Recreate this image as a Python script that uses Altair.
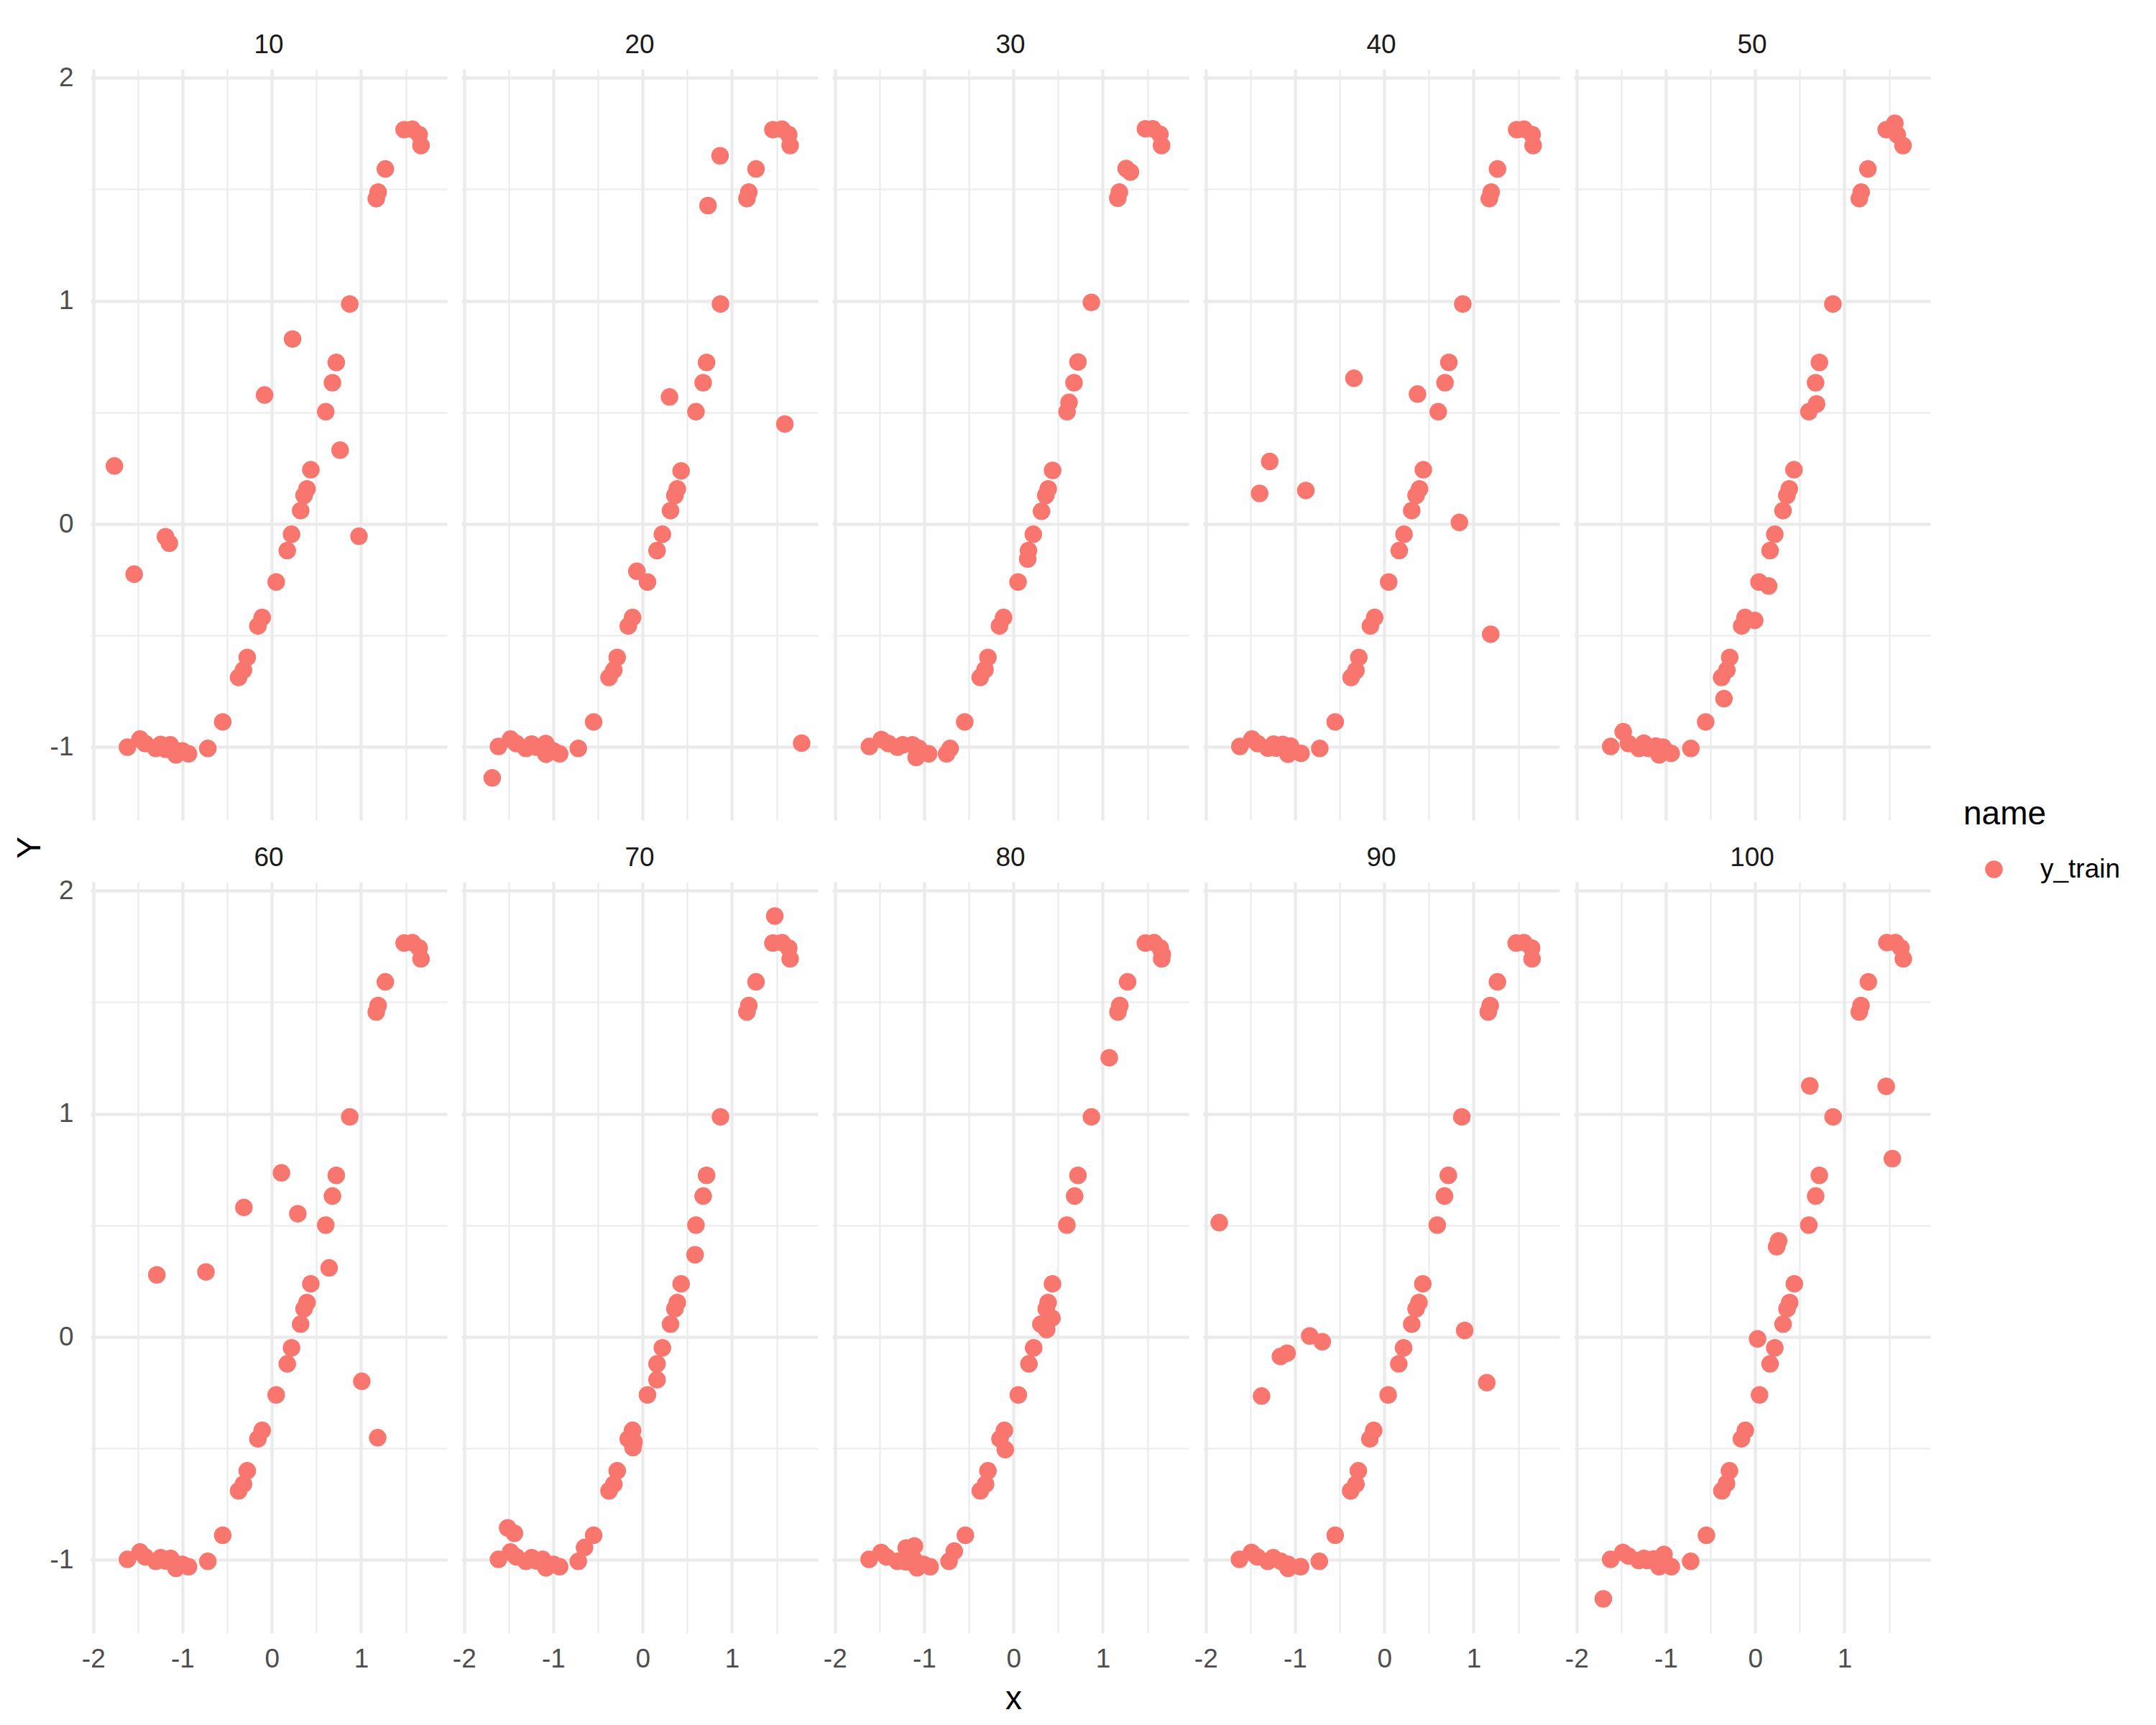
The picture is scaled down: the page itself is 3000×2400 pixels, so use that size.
import pandas as pd
import altair as alt

# points per facet panel: (x, Y)
P10 = [(-1.763, 0.260), (-1.542, -0.225), (-1.191, -0.057), (-1.148, -0.086), (-1.617, -1.0),
       (-1.477, -0.964), (-1.418, -0.984), (-1.30, -1.006), (-1.245, -0.988), (-1.19, -1.01),
       (-1.137, -0.99), (-1.073, -1.035), (-1.003, -1.017), (-0.933, -1.03), (-0.717, -1.006),
       (-0.550, -0.887), (-0.372, -0.688), (-0.318, -0.655), (-0.275, -0.598), (-0.156, -0.457),
       (-0.108, -0.419), (-0.081, 0.578), (0.049, -0.260), (0.173, -0.119), (0.221, -0.046),
       (0.232, 0.829), (0.323, 0.060), (0.361, 0.128), (0.394, 0.157), (0.437, 0.243),
       (0.604, 0.503), (0.679, 0.633), (0.722, 0.724), (0.765, 0.331), (0.873, 0.986),
       (0.976, -0.055), (1.170, 1.458), (1.191, 1.487), (1.272, 1.591), (1.482, 1.767),
       (1.574, 1.769), (1.65, 1.745), (1.671, 1.696)]
P20 = [(-1.685, -1.138), (-1.615, -0.997), (-1.48, -0.964), (-1.415, -0.984), (-1.308, -1.006),
       (-1.243, -0.986), (-1.19, -1.0), (-1.086, -0.984), (-1.082, -1.032), (-1.0, -1.017),
       (-0.93, -1.03), (-0.721, -1.006), (-0.549, -0.887), (-0.377, -0.688), (-0.323, -0.655),
       (-0.285, -0.598), (-0.161, -0.457), (-0.113, -0.419), (-0.065, -0.212), (0.054, -0.260),
       (0.161, -0.119), (0.221, -0.046), (0.301, 0.569), (0.312, 0.060), (0.361, 0.128),
       (0.388, 0.157), (0.431, 0.238), (0.597, 0.503), (0.678, 0.633), (0.716, 0.724),
       (0.732, 1.427), (0.867, 1.650), (0.872, 0.986), (1.168, 1.458), (1.189, 1.487),
       (1.270, 1.591), (1.459, 1.767), (1.561, 1.769), (1.636, 1.745), (1.652, 1.696),
       (1.593, 0.448), (1.781, -0.982)]
P30 = [(-1.614, -0.997), (-1.48, -0.966), (-1.40, -0.984), (-1.30, -1.0), (-1.24, -0.99),
       (-1.13, -0.99), (-1.09, -1.046), (-1.06, -1.006), (-0.95, -1.03), (-0.75, -1.03),
       (-0.71, -1.006), (-0.546, -0.887), (-0.373, -0.688), (-0.319, -0.653), (-0.286, -0.598),
       (-0.157, -0.457), (-0.111, -0.419), (0.051, -0.260), (0.159, -0.157), (0.168, -0.119),
       (0.222, -0.046), (0.314, 0.057), (0.362, 0.128), (0.389, 0.157), (0.438, 0.240),
       (0.600, 0.503), (0.622, 0.545), (0.678, 0.633), (0.722, 0.726), (0.873, 0.993),
       (1.168, 1.460), (1.186, 1.487), (1.262, 1.593), (1.31, 1.577), (1.478, 1.771),
       (1.559, 1.771), (1.64, 1.747), (1.659, 1.696)]
P40 = [(-1.618, -0.997), (-1.483, -0.964), (-1.419, -0.984), (-1.305, -1.004), (-1.24, -0.986),
       (-1.214, -1.004), (-1.138, -0.988), (-1.079, -1.032), (-1.05, -0.995), (-0.933, -1.028),
       (-0.723, -1.006), (-0.55, -0.887), (-0.372, -0.688), (-0.318, -0.657), (-0.286, -0.598),
       (-0.156, -0.457), (-0.108, -0.419), (0.049, -0.260), (0.167, -0.119), (0.221, -0.046),
       (0.307, 0.060), (0.356, 0.128), (0.394, 0.157), (0.437, 0.243), (0.604, 0.503),
       (0.680, 0.633), (0.723, 0.724), (0.879, 0.986), (0.841, 0.007), (0.372, 0.582),
       (-0.340, 0.653), (-1.284, 0.280), (-1.397, 0.137), (-0.879, 0.150), (1.192, -0.494),
       (1.176, 1.458), (1.197, 1.487), (1.268, 1.591), (1.483, 1.767), (1.564, 1.769),
       (1.656, 1.745), (1.667, 1.696)]
P50 = [(-1.618, -0.997), (-1.478, -0.931), (-1.419, -0.984), (-1.301, -1.006), (-1.247, -0.982),
       (-1.194, -1.006), (-1.113, -0.995), (-1.075, -1.035), (-1.032, -1.0), (-0.941, -1.028),
       (-0.72, -1.006), (-0.554, -0.887), (-0.376, -0.688), (-0.349, -0.783), (-0.317, -0.655),
       (-0.285, -0.598), (-0.151, -0.457), (-0.113, -0.419), (-0.005, -0.432), (0.043, -0.260),
       (0.151, -0.278), (0.167, -0.119), (0.22, -0.046), (0.312, 0.060), (0.355, 0.128),
       (0.382, 0.157), (0.435, 0.243), (0.602, 0.503), (0.688, 0.538), (0.677, 0.633),
       (0.72, 0.724), (0.871, 0.986), (1.167, 1.458), (1.188, 1.487), (1.263, 1.591),
       (1.468, 1.767), (1.565, 1.796), (1.591, 1.745), (1.656, 1.696)]
P60 = [(-1.617, -0.997), (-1.477, -0.964), (-1.418, -0.986), (-1.30, -1.006), (-1.245, -0.990),
       (-1.19, -1.004), (-1.132, -0.993), (-1.073, -1.037), (-1.003, -1.019), (-0.933, -1.03),
       (-0.717, -1.006), (-0.550, -0.889), (-0.372, -0.690), (-0.318, -0.660), (-0.275, -0.600),
       (-0.156, -0.457), (-0.108, -0.419), (0.049, -0.260), (0.173, -0.121), (0.221, -0.049),
       (0.323, 0.057), (0.361, 0.126), (0.394, 0.154), (0.437, 0.238), (0.604, 0.501),
       (0.642, 0.309), (0.679, 0.631), (0.722, 0.724), (0.873, 0.986), (1.008, -0.199),
       (1.186, -0.452), (1.170, 1.456), (1.191, 1.485), (1.272, 1.591), (1.482, 1.765),
       (1.574, 1.767), (1.65, 1.743), (1.671, 1.694), (-1.288, 0.278), (-0.738, 0.291),
       (-0.313, 0.580), (0.108, 0.735), (0.291, 0.552)]
P70 = [(-1.615, -0.997), (-1.512, -0.856), (-1.437, -0.880), (-1.48, -0.964), (-1.415, -0.986),
       (-1.308, -1.006), (-1.243, -0.990), (-1.19, -1.004), (-1.12, -0.997), (-1.082, -1.035),
       (-1.0, -1.019), (-0.93, -1.03), (-0.721, -1.006), (-0.651, -0.944), (-0.549, -0.889),
       (-0.377, -0.690), (-0.323, -0.660), (-0.285, -0.600), (-0.161, -0.457), (-0.113, -0.419),
       (-0.108, -0.496), (-0.097, -0.47), (0.054, -0.260), (0.161, -0.192), (0.161, -0.121),
       (0.221, -0.049), (0.312, 0.057), (0.361, 0.126), (0.388, 0.154), (0.431, 0.238),
       (0.587, 0.368), (0.597, 0.501), (0.678, 0.631), (0.716, 0.724), (0.872, 0.986),
       (1.168, 1.456), (1.189, 1.485), (1.270, 1.591), (1.48, 1.886), (1.459, 1.765),
       (1.561, 1.767), (1.636, 1.743), (1.652, 1.694)]
P80 = [(-1.617, -0.997), (-1.482, -0.966), (-1.423, -0.986), (-1.30, -1.006), (-1.202, -0.946),
       (-1.11, -0.937), (-1.202, -1.008), (-1.121, -0.993), (-1.078, -1.035), (-1.008, -1.019),
       (-0.933, -1.03), (-0.722, -1.006), (-0.663, -0.960), (-0.539, -0.889), (-0.372, -0.690),
       (-0.313, -0.660), (-0.286, -0.600), (-0.151, -0.457), (-0.102, -0.419), (-0.092, -0.505),
       (0.054, -0.260), (0.173, -0.121), (0.226, -0.049), (0.307, 0.057), (0.367, 0.126),
       (0.388, 0.154), (0.431, 0.084), (0.372, 0.033), (0.437, 0.238), (0.598, 0.501),
       (0.685, 0.631), (0.722, 0.724), (0.873, 0.986), (1.073, 1.251), (1.170, 1.456),
       (1.191, 1.485), (1.278, 1.591), (1.477, 1.765), (1.574, 1.767), (1.644, 1.743),
       (1.666, 1.714), (1.66, 1.694)]
P90 = [(-1.849, 0.512), (-1.623, -0.997), (-1.488, -0.966), (-1.423, -0.986), (-1.375, -0.265),
       (-1.305, -1.006), (-1.245, -0.990), (-1.164, -0.088), (-1.089, -0.073), (-1.159, -1.006),
       (-1.078, -1.019), (-1.078, -1.037), (-0.938, -1.03), (-0.836, 0.004), (-0.695, -0.022),
       (-0.728, -1.006), (-0.55, -0.889), (-0.377, -0.690), (-0.318, -0.660), (-0.291, -0.600),
       (-0.162, -0.457), (-0.119, -0.419), (0.043, -0.260), (0.162, -0.121), (0.216, -0.049),
       (0.307, 0.057), (0.356, 0.126), (0.388, 0.154), (0.431, 0.238), (0.593, 0.501),
       (0.674, 0.631), (0.717, 0.724), (0.868, 0.986), (0.900, 0.029), (1.148, -0.205),
       (1.164, 1.456), (1.186, 1.485), (1.267, 1.591), (1.477, 1.765), (1.563, 1.767),
       (1.65, 1.743), (1.655, 1.694)]
P100 = [(-1.701, -1.174), (-1.619, -0.997), (-1.482, -0.966), (-1.419, -0.982), (-1.304, -1.002),
        (-1.246, -0.993), (-1.207, -1.002), (-1.139, -0.995), (-1.076, -1.030), (-1.021, -0.975),
        (-0.939, -1.030), (-0.722, -1.006), (-0.546, -0.889), (-0.373, -0.690), (-0.321, -0.657),
        (-0.288, -0.600), (-0.154, -0.457), (-0.110, -0.419), (0.027, -0.009), (0.049, -0.260),
        (0.167, -0.121), (0.220, -0.049), (0.241, 0.404), (0.263, 0.430), (0.313, 0.057),
        (0.357, 0.126), (0.387, 0.154), (0.439, 0.238), (0.601, 0.501), (0.612, 1.125),
        (0.678, 0.631), (0.719, 0.724), (0.873, 0.986), (1.166, 1.456), (1.186, 1.485),
        (1.268, 1.591), (1.468, 1.123), (1.537, 0.799), (1.476, 1.767), (1.572, 1.767),
        (1.633, 1.743), (1.660, 1.694)]

PANELS = {10: P10, 20: P20, 30: P30, 40: P40, 50: P50,
          60: P60, 70: P70, 80: P80, 90: P90, 100: P100}
SERIES = "y_train"
X_TICKS = [-2, -1.5, -1, -0.5, 0, 0.5, 1, 1.5]
Y_TICKS = [-1, -0.5, 0, 0.5, 1, 1.5, 2]

rows = [{"panel": p, "x": x, "Y": y, "name": SERIES}
        for p, pts in PANELS.items() for x, y in pts]
df = pd.DataFrame(rows)


def expand(lo, hi, mult=0.05):
    pad = (hi - lo) * mult
    return [lo - pad, hi + pad]


FONT = "Liberation Sans"
GRID = "#EBEBEB"
MAJOR = "datum.value % 1 === 0"
grid_width = {"condition": {"test": MAJOR, "value": 4.4}, "value": 2.2}
label_expr = f"{MAJOR} ? '' + datum.value : ''"
POINT_SIZE = 600


def axis(values, pad):
    return alt.Axis(
        values=values, labelExpr=label_expr, title=None, domain=False, ticks=False,
        gridColor=GRID, gridWidth=grid_width, labelFont=FONT, labelFontSize=37,
        labelColor="#4D4D4D", labelPadding=pad, labelFlush=False,
    )


base = alt.Chart(df).mark_circle(size=POINT_SIZE, opacity=1).encode(
    x=alt.X("x:Q", scale=alt.Scale(domain=expand(df.x.min(), df.x.max()), nice=False, zero=False),
            axis=axis(X_TICKS, 18)),
    y=alt.Y("Y:Q", scale=alt.Scale(domain=expand(df.Y.min(), df.Y.max()), nice=False, zero=False),
            axis=axis(Y_TICKS, 24)),
    color=alt.Color("name:N", scale=alt.Scale(domain=[SERIES], range=["#F8766D"]),
                    legend=alt.Legend(title="name", orient="none", legendX=2606, legendY=1015,
                                      titleFont=FONT, titleFontSize=46, titleFontWeight="normal",
                                      titleColor="black", titlePadding=34,
                                      labelFont=FONT, labelFontSize=37, labelColor="black",
                                      symbolOffset=24, labelOffset=46,
                                      symbolSize=POINT_SIZE, symbolType="circle")),
).properties(width=496, height=1045)

facets = base.facet(
    facet=alt.Facet("panel:O", header=alt.Header(
        title=None, labelFont=FONT, labelFontSize=37, labelColor="#1A1A1A", labelPadding=14)),
    columns=5,
    spacing={"column": 20, "row": 34},
).properties(
    title=alt.TitleParams("x", orient="bottom", anchor="middle", font=FONT, fontSize=46,
                          fontWeight="normal", color="black", offset=16, dx=33)
)

chart = alt.hconcat(facets).properties(
    title=alt.TitleParams("Y", orient="left", anchor="middle", font=FONT, fontSize=46,
                          fontWeight="normal", color="black", offset=3, dx=36),
    padding={"left": 11, "top": 36, "right": 10, "bottom": 10},
).configure_view(stroke=None)

chart.save("out.html", embed_options={"renderer": "svg", "actions": False})
